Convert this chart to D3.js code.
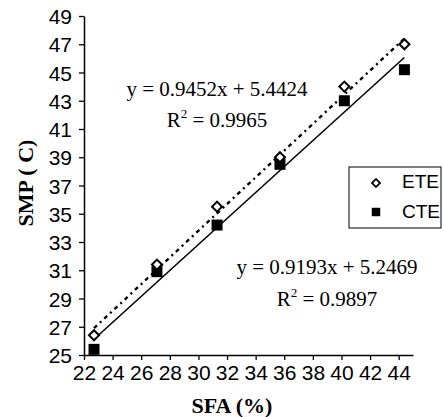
<!DOCTYPE html>
<html>
<head>
<meta charset="utf-8">
<script src="https://cdn.jsdelivr.net/npm/d3@7"></script>
<style>
  body { margin: 0; background: #fff; }
  svg { display: block; }
</style>
</head>
<body>
<script>
// data
var sfa = [22.7, 27.1, 31.3, 35.7, 40.2, 44.4];
var ete = [26.4, 31.4, 35.5, 39.0, 44.0, 47.0];
var cte = [25.4, 30.9, 34.2, 38.5, 43.0, 45.2];
var xTicks = [22, 24, 26, 28, 30, 32, 34, 36, 38, 40, 42, 44];
var yTicks = [25, 27, 29, 31, 33, 35, 37, 39, 41, 43, 45, 47, 49];
var seriesNames = ["ETE", "CTE"];
// trendline coefficients as printed on the chart
var slopes = [0.9452, 0.9193];
var intercepts = [5.4424, 5.2469];
var eqLabels = ["y = 0.9452x + 5.4424", "y = 0.9193x + 5.2469"];
var r2Labels = ["0.9965", "0.9897"];

var width = 444, height = 417;
var xScale = d3.scaleLinear().domain([22, 45]).range([84, 413]);
var yScale = d3.scaleLinear().domain([25, 49]).range([355, 16]);

var svg = d3.select("body").append("svg")
  .attr("width", width)
  .attr("height", height);

var sans = "'Liberation Sans', Arial, sans-serif";
var serif = "'Liberation Serif', 'Times New Roman', serif";

// axes
var xAxis = d3.axisBottom(xScale).tickValues(xTicks).tickSize(5).tickSizeOuter(0).tickPadding(5);
var yAxis = d3.axisLeft(yScale).tickValues(yTicks).tickSize(5).tickSizeOuter(0).tickPadding(7);

var gx = svg.append("g").attr("transform", "translate(0," + yScale(25) + ")").call(xAxis);
var gy = svg.append("g").attr("transform", "translate(" + xScale(22) + ",0)").call(yAxis);

[gx, gy].forEach(function(g) {
  g.select(".domain").attr("stroke", "#000").attr("stroke-width", 1.5);
  g.selectAll(".tick line").attr("stroke", "#000").attr("stroke-width", 1.3);
  g.selectAll(".tick text")
    .attr("fill", "#000")
    .style("font-family", sans)
    .style("font-size", "21px");
});
gx.selectAll(".tick text").attr("dy", "0.7em");
gy.selectAll(".tick text").attr("dy", "0.36em");

// axis titles
svg.append("text")
  .attr("x", 232)
  .attr("y", 413)
  .attr("text-anchor", "middle")
  .style("font-family", serif)
  .style("font-weight", "bold")
  .style("font-size", "22px")
  .text("SFA (%)");

svg.append("text")
  .attr("transform", "translate(33,183) rotate(-90)")
  .attr("text-anchor", "middle")
  .style("font-family", serif)
  .style("font-weight", "bold")
  .style("font-size", "22px")
  .text("SMP ( C)");

// trendlines
var xExt = d3.extent(sfa);
var line = d3.line()
  .x(d => xScale(d[0]))
  .y(d => yScale(d[1]));

[0, 1].forEach(function(i) {
  var pts = xExt.map(x => [x, slopes[i] * x + intercepts[i]]);
  svg.append("path")
    .attr("d", line(pts))
    .attr("fill", "none")
    .attr("stroke", "#000")
    .attr("stroke-width", i == 0 ? 2.4 : 1.6)
    .attr("stroke-dasharray", i == 0 ? "4,4,2,4" : null);
});

// markers
var diamond = d3.symbol().type(d3.symbolSquare).size(50);
var square = d3.symbol().type(d3.symbolSquare).size(121);

svg.selectAll("path.cte").data(sfa)
  .enter().append("path")
  .attr("class", "cte")
  .attr("d", square)
  .attr("transform", (d, i) => "translate(" + xScale(d) + "," + yScale(cte[i]) + ")")
  .attr("fill", "#000");

svg.selectAll("path.ete").data(sfa)
  .enter().append("path")
  .attr("class", "ete")
  .attr("d", diamond)
  .attr("transform", (d, i) => "translate(" + xScale(d) + "," + yScale(ete[i]) + ") rotate(45)")
  .attr("fill", "#fff")
  .attr("stroke", "#000")
  .attr("stroke-width", 2);

// equations
var eqPos = [[217, 96, 217, 127], [327, 274, 327, 306]];
[0, 1].forEach(function(i) {
  var p = eqPos[i];
  svg.append("text")
    .attr("x", p[0]).attr("y", p[1])
    .attr("text-anchor", "middle")
    .style("font-family", serif)
    .style("font-size", "21px")
    .text(eqLabels[i]);
  var t = svg.append("text")
    .attr("x", p[2]).attr("y", p[3])
    .attr("text-anchor", "middle")
    .style("font-family", serif)
    .style("font-size", "21px");
  t.append("tspan").text("R");
  t.append("tspan").attr("dy", -9).style("font-size", "13px").text("2");
  t.append("tspan").attr("dy", 9).text(" = " + r2Labels[i]);
});

// legend
var lg = svg.append("g").attr("transform", "translate(349,167)");
lg.append("rect")
  .attr("width", 92).attr("height", 61)
  .attr("fill", "#fff")
  .attr("stroke", "#000")
  .attr("stroke-width", 1);

lg.selectAll("path.lm").data(seriesNames)
  .enter().append("path")
  .attr("class", "lm")
  .attr("d", (d, i) => i == 0 ? d3.symbol().type(d3.symbolSquare).size(32)() : d3.symbol().type(d3.symbolSquare).size(72)())
  .attr("transform", (d, i) => "translate(27," + (16 + i * 29) + ")" + (i == 0 ? " rotate(45)" : ""))
  .attr("fill", (d, i) => i == 0 ? "#fff" : "#000")
  .attr("stroke", (d, i) => i == 0 ? "#000" : "none")
  .attr("stroke-width", 1.8);

lg.selectAll("text").data(seriesNames)
  .enter().append("text")
  .attr("x", 53)
  .attr("y", (d, i) => 21 + i * 30)
  .style("font-family", sans)
  .style("font-size", "19px")
  .text(d => d);
</script>
</body>
</html>
